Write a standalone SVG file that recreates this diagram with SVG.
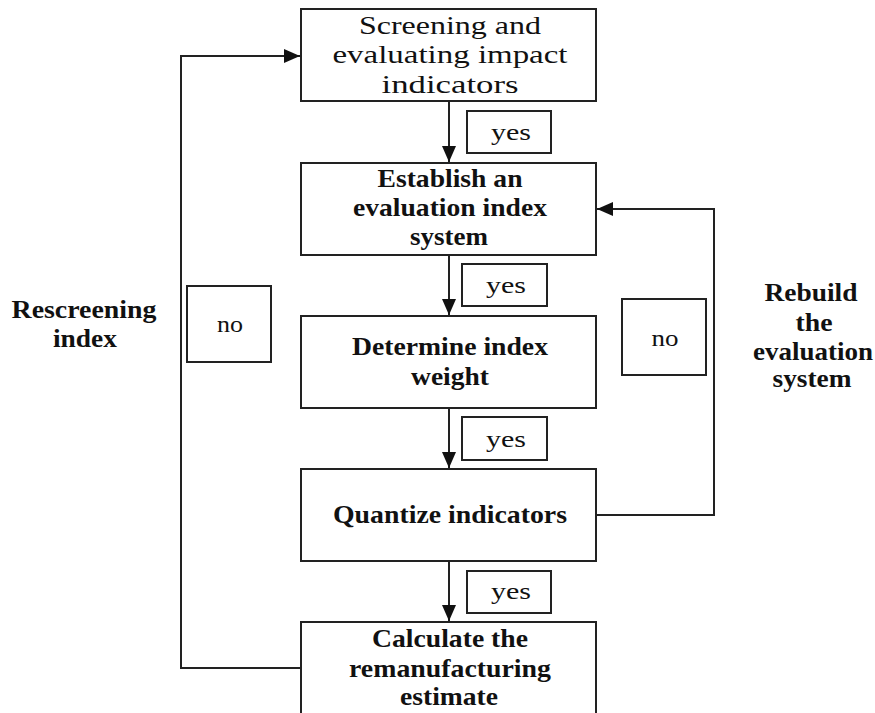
<svg xmlns="http://www.w3.org/2000/svg" width="875" height="713" viewBox="0 0 875 713">
<defs>
<style>
.box{fill:#fff;stroke:#222;stroke-width:2}
.lbl{fill:#fff;stroke:#222;stroke-width:2}
.ln{fill:none;stroke:#222;stroke-width:2}
.t{font-family:"Liberation Serif","Times New Roman",serif;fill:#111;text-anchor:middle}
.m{font-size:25px}
.b{font-size:25px;font-weight:bold}
.s{font-size:23px}
</style>
<marker id="ah" markerWidth="16" markerHeight="14" refX="16" refY="7" orient="auto" markerUnits="userSpaceOnUse">
<path d="M0,0 L16,7 L0,14 Z" fill="#111"/>
</marker>
</defs>
<rect width="875" height="713" fill="#fff"/>
<g id="connectors">
<line class="ln" x1="449" y1="101" x2="449" y2="162" marker-end="url(#ah)"/>
<line class="ln" x1="449" y1="255" x2="449" y2="315" marker-end="url(#ah)"/>
<line class="ln" x1="449" y1="408" x2="449" y2="468" marker-end="url(#ah)"/>
<line class="ln" x1="449" y1="561" x2="449" y2="621" marker-end="url(#ah)"/>
<polyline class="ln" points="301,668 181,668 181,56 300,56" marker-end="url(#ah)"/>
<polyline class="ln" points="596,515 714,515 714,209 597,209" marker-end="url(#ah)"/>
</g>
<g id="n1">
<rect class="box" x="301" y="9" width="295" height="92"/>
<text class="t m" x="450" y="34" textLength="182" lengthAdjust="spacingAndGlyphs">Screening and</text>
<text class="t m" x="450" y="63" textLength="235" lengthAdjust="spacingAndGlyphs">evaluating impact</text>
<text class="t m" x="450" y="93" textLength="137" lengthAdjust="spacingAndGlyphs">indicators</text>
</g>
<g id="n2">
<rect class="box" x="301" y="163" width="295" height="92"/>
<text class="t b" x="450" y="187" textLength="145" lengthAdjust="spacingAndGlyphs">Establish an</text>
<text class="t b" x="450" y="216" textLength="194" lengthAdjust="spacingAndGlyphs">evaluation index</text>
<text class="t b" x="449" y="245" textLength="78" lengthAdjust="spacingAndGlyphs">system</text>
</g>
<g id="n3">
<rect class="box" x="301" y="316" width="295" height="92"/>
<text class="t b" x="450" y="355" textLength="196" lengthAdjust="spacingAndGlyphs">Determine index</text>
<text class="t b" x="450" y="385" textLength="78" lengthAdjust="spacingAndGlyphs">weight</text>
</g>
<g id="n4">
<rect class="box" x="301" y="469" width="295" height="92"/>
<text class="t b" x="450" y="523" textLength="234" lengthAdjust="spacingAndGlyphs">Quantize indicators</text>
</g>
<g id="n5">
<rect class="box" x="301" y="622" width="295" height="110"/>
<text class="t b" x="450" y="647" textLength="156" lengthAdjust="spacingAndGlyphs">Calculate the</text>
<text class="t b" x="450" y="677" textLength="202" lengthAdjust="spacingAndGlyphs">remanufacturing</text>
<text class="t b" x="449" y="705" textLength="98" lengthAdjust="spacingAndGlyphs">estimate</text>
</g>
<g id="yes1">
<rect class="lbl" x="467" y="111" width="84" height="42"/>
<text class="t s" x="511" y="140" textLength="40" lengthAdjust="spacingAndGlyphs">yes</text>
</g>
<g id="yes2">
<rect class="lbl" x="462" y="264" width="85" height="42"/>
<text class="t s" x="506" y="293" textLength="40" lengthAdjust="spacingAndGlyphs">yes</text>
</g>
<g id="yes3">
<rect class="lbl" x="462" y="417" width="85" height="43"/>
<text class="t s" x="506" y="447" textLength="40" lengthAdjust="spacingAndGlyphs">yes</text>
</g>
<g id="yes4">
<rect class="lbl" x="467" y="571" width="84" height="42"/>
<text class="t s" x="511" y="599" textLength="40" lengthAdjust="spacingAndGlyphs">yes</text>
</g>
<g id="no-left">
<rect class="lbl" x="187" y="286" width="84" height="76"/>
<text class="t s" x="230" y="332" textLength="26" lengthAdjust="spacingAndGlyphs">no</text>
</g>
<g id="no-right">
<rect class="lbl" x="622" y="299" width="84" height="76"/>
<text class="t s" x="665" y="346" textLength="27" lengthAdjust="spacingAndGlyphs">no</text>
</g>
<g id="label-left">
<text class="t b" x="84" y="318" textLength="145" lengthAdjust="spacingAndGlyphs">Rescreening</text>
<text class="t b" x="85" y="347" textLength="64" lengthAdjust="spacingAndGlyphs">index</text>
</g>
<g id="label-right">
<text class="t b" x="811" y="301" textLength="93" lengthAdjust="spacingAndGlyphs">Rebuild</text>
<text class="t b" x="814" y="331" textLength="37" lengthAdjust="spacingAndGlyphs">the</text>
<text class="t b" x="813" y="360" textLength="120" lengthAdjust="spacingAndGlyphs">evaluation</text>
<text class="t b" x="812" y="387" textLength="79" lengthAdjust="spacingAndGlyphs">system</text>
</g>
</svg>
